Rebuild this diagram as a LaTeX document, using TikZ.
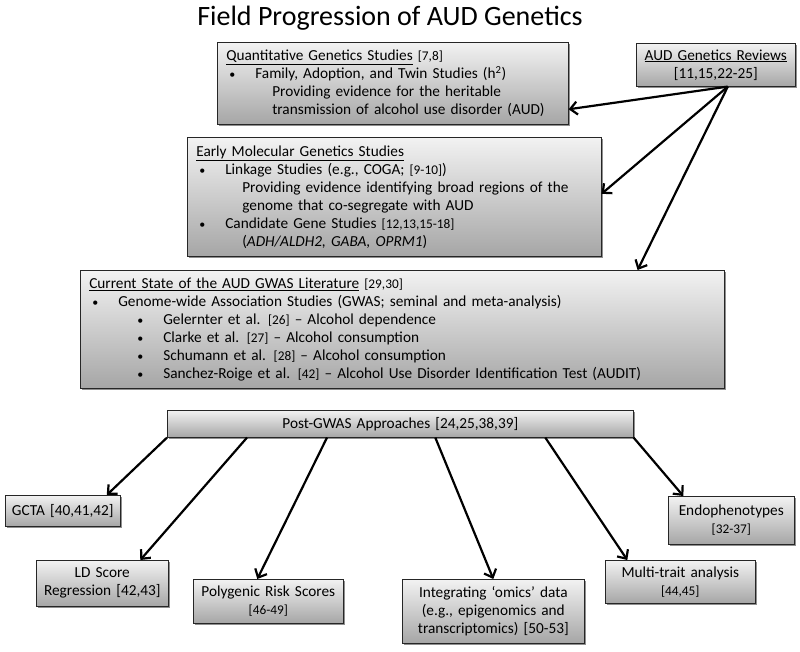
\documentclass[tikz,border=0pt]{standalone}
\usepackage{fontspec}
\setmainfont{Carlito}
\usetikzlibrary{arrows.meta,shadows}
\newcommand{\refs}[1]{{\fontsize{13.3}{14}\selectfont[#1]}}
\newcommand{\bdot}{{\fontsize{12}{12}\selectfont\textbullet}}
\newcommand{\bulA}{\hspace*{3pt}\makebox[26pt][l]{\bdot}}
\newcommand{\subA}{\hspace*{46pt}}
\newcommand{\bulB}{\hspace*{48pt}\makebox[26pt][l]{\bdot}}

\begin{document}
\begin{tikzpicture}[x=1pt, y=-1pt,
  every node/.style={inner sep=0pt, font=\fontsize{15.3}{18}\selectfont},
  arr/.style={-{Straight Barb[length=7pt,width=13pt]}, line width=2.2pt}
]
\tikzset{
  gbox/.style={draw=black!85, line width=0.6pt, anchor=north west,
    top color=black!5, bottom color=black!35,
    drop shadow={shadow xshift=1.5pt, shadow yshift=-1.5pt, fill=black!55, opacity=.8}},
  lbox/.style={gbox, align=left, inner xsep=9pt},
  cbox/.style={gbox, align=center, inner xsep=4pt}
}
\useasboundingbox (0,0) rectangle (800,652);

\node[font=\fontsize{28}{32}\selectfont] (title) at (390,18) {Field Progression of AUD Genetics};

\node[lbox, text width=333pt, minimum height=82pt] (quant) at (217,42)
  {\underline{Quantitative Genetics Studies} \refs{7,8}\\
   \bulA Family, Adoption, and Twin Studies (h\textsuperscript{2})\\
   \subA Providing evidence for the heritable\\
   \subA transmission of alcohol use disorder (AUD)};
\node[cbox, text width=151pt, minimum height=43pt] (rev) at (636,43)
  {\underline{AUD Genetics Reviews}\\{[11,15,22-25]}};
\node[lbox, text width=396pt, minimum height=119pt] (early) at (187,137)
  {\underline{Early Molecular Genetics Studies}\\
   \bulA Linkage Studies (e.g., COGA; \refs{9-10})\\
   \subA Providing evidence identifying broad regions of the\\
   \subA genome that co-segregate with AUD\\
   \bulA Candidate Gene Studies \refs{12,13,15-18}\\
   \subA (\textit{ADH/ALDH2, GABA, OPRM1})};
\node[lbox, text width=626pt, minimum height=118pt] (cur) at (80,270)
  {\underline{Current State of the AUD GWAS Literature} \refs{29,30}\\
   \bulA Genome-wide Association Studies (GWAS; seminal and meta-analysis)\\
   \bulB Gelernter et al. \refs{26} -- Alcohol dependence\\
   \bulB Clarke et al. \refs{27} -- Alcohol consumption\\
   \bulB Schumann et al. \refs{28} -- Alcohol consumption\\
   \bulB Sanchez-Roige et al. \refs{42} -- Alcohol Use Disorder Identification Test (AUDIT)};
\node[cbox, text width=458pt, minimum height=27pt] (post) at (167,410)
  {Post-GWAS Approaches [24,25,38,39]};

\node[cbox, text width=107pt, minimum height=31pt] (gcta) at (5,495) {GCTA [40,41,42]};
\node[cbox, text width=124pt, minimum height=46pt] (ldsc) at (36,560) {LD Score\\Regression [42,43]};
\node[cbox, text width=142pt, minimum height=44pt] (prs) at (193,579) {Polygenic Risk Scores\\\refs{46-49}};
\node[cbox, text width=174pt, minimum height=64pt] (omics) at (402,579)
  {Integrating `omics' data\\(e.g., epigenomics and\\transcriptomics) [50-53]};
\node[cbox, text width=142pt, minimum height=43pt] (multi) at (605,560) {Multi-trait analysis\\\refs{44,45}};
\node[cbox, text width=118pt, minimum height=48pt] (endo) at (668,496) {Endophenotypes\\\refs{32-37}};

\draw[arr] ([xshift=12pt]rev.south) -- ([yshift=-26pt]quant.east);
\draw[arr] ([xshift=12pt]rev.south) -- ([yshift=3pt]early.east);
\draw[arr] ([xshift=12pt]rev.south) -- ([xshift=-87pt]cur.north east);

\draw[arr] (post.south west) -- ([xshift=44pt]gcta.north);
\draw[arr] ([xshift=80pt]post.south west) -- ([xshift=38pt]ldsc.north);
\draw[arr] ([xshift=160pt]post.south west) -- ([xshift=-11pt]prs.north);
\draw[arr] ([xshift=35pt]post.south) -- (omics.north);
\draw[arr] ([xshift=145pt]post.south) -- ([xshift=-53pt]multi.north);
\draw[arr] (post.south east) -- ([xshift=-48pt]endo.north);
\end{tikzpicture}
\end{document}
